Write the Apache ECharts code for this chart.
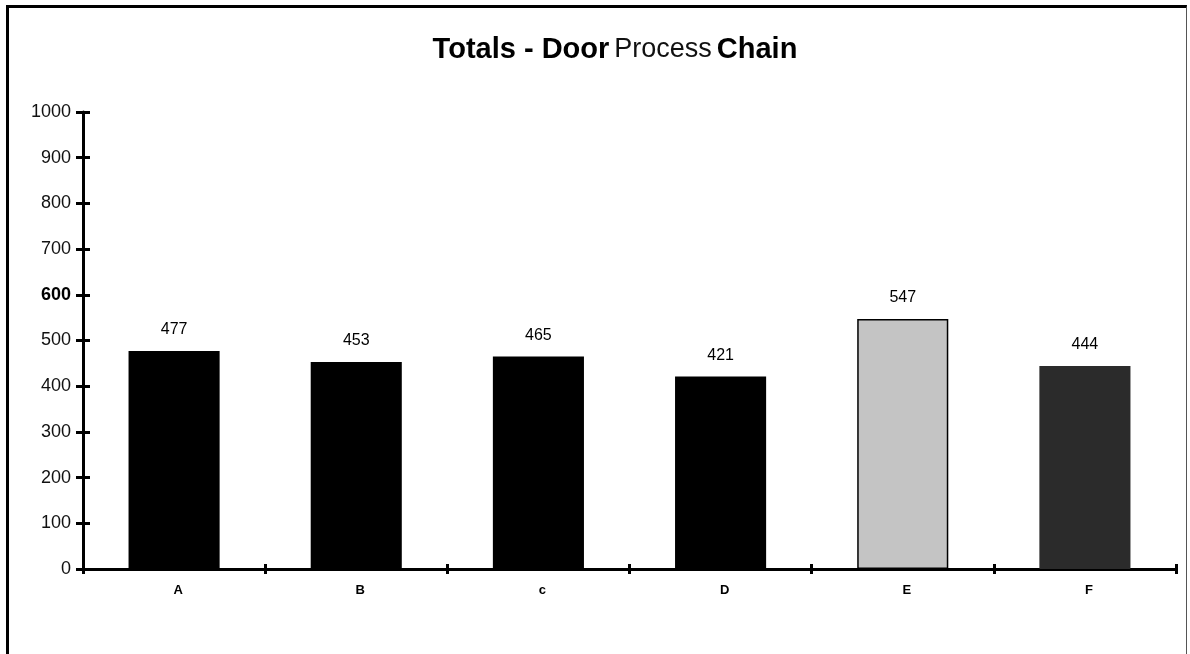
<!DOCTYPE html>
<html>
<head>
<meta charset="utf-8">
<script src="https://cdn.jsdelivr.net/npm/echarts@6/dist/echarts.min.js"></script>
<style>
html,body{margin:0;padding:0;background:#fff;}
#frame{position:absolute;left:6px;top:5px;width:1181px;height:660px;border-top:3px solid #000;border-left:3px solid #000;border-right:1px solid #555;box-sizing:border-box;}
#chart{position:absolute;left:0;top:0;width:1190px;height:654px;}
</style>
</head>
<body>
<div id="frame"></div>
<div id="chart"></div>
<script>
const categories = ['A', 'B', 'c', 'D', 'E', 'F'];
const totals = [477, 453, 465, 421, 547, 444];
const barColors = ['#000000', '#000000', '#000000', '#000000', '#c4c4c4', '#2b2b2b'];
const yTicks = [0, 100, 200, 300, 400, 500, 600, 700, 800, 900, 1000];

const chart = echarts.init(document.getElementById('chart'));
const labelFont = '"Liberation Sans Narrow", "Liberation Sans", Arial, sans-serif';
chart.setOption({
  animation: false,
  backgroundColor: 'transparent',
  title: {
    text: '{b|Totals - Door} {r|Process} {b|Chain}',
    left: 610, top: 30, textAlign: 'center',
    textStyle: {
      rich: {
        b: { fontFamily: '"Liberation Sans", Arial, sans-serif', fontWeight: 'bold', fontSize: 29, color: '#000' },
        r: { fontFamily: '"Liberation Sans", Arial, sans-serif', fontWeight: 'normal', fontSize: 27, color: '#111' }
      }
    }
  },
  grid: { left: 83, right: 14, top: 112, bottom: 85 },
  xAxis: [{
    type: 'category', data: categories,
    axisLine: { lineStyle: { color: '#000', width: 3 } },
    axisTick: { show: true, length: 5, lineStyle: { color: '#000', width: 3 } },
    axisLabel: { color: '#000', fontSize: 13, fontWeight: 'bold', fontFamily: '"Liberation Sans", Arial, sans-serif', margin: 15, padding: [0, 0, 0, 8] }
  }, {
    type: 'category', data: categories, position: 'bottom',
    axisLine: { show: false },
    axisTick: { show: true, inside: true, length: 5, lineStyle: { color: '#000', width: 3 } },
    axisLabel: { show: false }
  }],
  yAxis: [{
    type: 'value', min: 0, max: 1000, interval: 100,
    axisLine: { show: true, lineStyle: { color: '#000', width: 3 } },
    axisTick: { show: true, length: 7, lineStyle: { color: '#000', width: 3 } },
    splitLine: { show: false },
    axisLabel: {
      margin: 12, fontSize: 18, fontFamily: labelFont, color: '#111',
      formatter: function (v) { return v === 600 ? '{bold|' + v + '}' : String(v); },
      rich: { bold: { fontSize: 18, fontWeight: 'bold', fontFamily: labelFont, color: '#000' } }
    }
  }, {
    type: 'value', min: 0, max: 1000, interval: 100, position: 'left',
    axisLine: { show: false },
    axisTick: { show: true, inside: true, length: 7, lineStyle: { color: '#000', width: 3 } },
    splitLine: { show: false },
    axisLabel: { show: false }
  }],
  series: [{
    type: 'bar',
    data: totals.map((v, i) => ({
      value: v,
      itemStyle: { color: barColors[i], borderColor: '#000', borderWidth: i === 4 ? 1.5 : 0 }
    })),
    barWidth: '50%',
    label: {
      show: true, position: 'top', distance: 13, color: '#000', fontSize: 16,
      fontFamily: '"Liberation Sans", Arial, sans-serif'
    }
  }]
});
</script>
</body>
</html>
